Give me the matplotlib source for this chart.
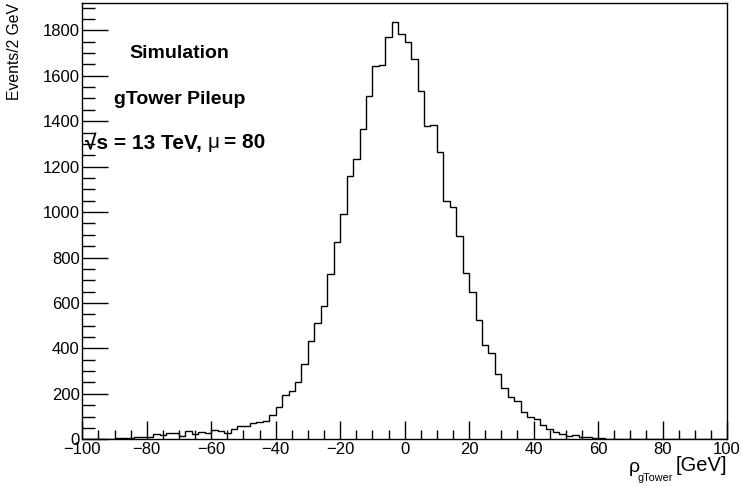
import numpy as np
import matplotlib
matplotlib.use("Agg")
import matplotlib.pyplot as plt
from matplotlib.ticker import MultipleLocator

plt.rcParams['font.family'] = ['Liberation Sans', 'DejaVu Sans']
plt.rcParams['axes.unicode_minus'] = True

# bin edges: 2 GeV bins from -100 to 100
bin_edges = np.arange(-100, 102, 2)

# events per bin
counts_neg_tail = [2, 2, 1, 3, 3, 5, 7, 5, 9, 10, 12, 22, 20, 26, 27, 16, 36,
                   25, 33, 28, 40, 37, 28, 44, 58]           # -100 .. -50
counts_rise = [58, 73, 78, 82, 105, 142, 195, 212, 253, 333, 432, 513, 585,
               727, 867, 993, 1157, 1235, 1365, 1510, 1642, 1648, 1771,
               1835, 1782]                                     # -50 .. 0
counts_fall = [1750, 1673, 1532, 1378, 1385, 1266, 1047, 1021, 896, 733, 650,
               525, 415, 378, 287, 226, 186, 167, 120, 98, 91, 62, 44, 31,
               23]                                             # 0 .. 50
counts_pos_tail = [15, 18, 11, 8, 6, 4, 2, 1] + [0] * 17       # 50 .. 100

counts = np.array(counts_neg_tail + counts_rise + counts_fall + counts_pos_tail)

x_ticks = [-100, -80, -60, -40, -20, 0, 20, 40, 60, 80, 100]
y_ticks = [0, 200, 400, 600, 800, 1000, 1200, 1400, 1600, 1800]

W, H = 741, 487
fig = plt.figure(figsize=(W / 100, H / 100), dpi=100)
ax = fig.add_axes([82.3 / W, 1 - 439.3 / H, (727 - 82.3) / W, (439.3 - 3) / H])

ax.stairs(counts, bin_edges, color='black', linewidth=1.0)

ax.set_xlim(-100, 100)
ax.set_ylim(0, 1920)
ax.set_xticks(x_ticks)
ax.set_yticks(y_ticks)
ax.xaxis.set_minor_locator(MultipleLocator(5))
ax.yaxis.set_minor_locator(MultipleLocator(50))
ax.tick_params(axis='both', which='both', direction='in', top=False, right=False,
               labelsize=12, width=1.0, color='black')
ax.tick_params(axis='x', which='major', length=13, pad=2)
ax.tick_params(axis='x', which='minor', length=6.5)
ax.tick_params(axis='y', which='major', length=19, pad=2)
ax.tick_params(axis='y', which='minor', length=9.5)
for s in ax.spines.values():
    s.set_linewidth(1.0)


def px(x, y):
    return x / W, 1 - y / H


# axis titles, ROOT style (right / top aligned)
fig.text(*px(15, 3), 'Events/2 GeV', rotation=90, ha='center', va='top',
         fontsize=11.3)
fig.text(*px(727, 471), '[GeV]', ha='right', va='baseline', fontsize=14.5)
fig.text(*px(637, 481), 'gTower', ha='left', va='baseline', fontsize=7.8)
fig.text(*px(629, 472), '\u03c1', ha='left', va='baseline', fontsize=14)

# labels
fig.text(*px(179, 53), 'Simulation', ha='center', va='center',
         fontsize=14, fontweight='bold')
fig.text(*px(179.5, 99), 'gTower Pileup', ha='center', va='center',
         fontsize=14, fontweight='bold')

renderer = fig.canvas.get_renderer()
t1 = fig.text(*px(85, 143), '\u221as = 13 TeV,', ha='left', va='center',
              fontsize=15, fontweight='bold')
x_end = t1.get_window_extent(renderer).x1
t2 = fig.text((x_end + 6) / W, 1 - 143 / H, '\u03bc', ha='left', va='center',
              fontsize=15)
x_end = t2.get_window_extent(renderer).x1
fig.text((x_end + 4) / W, 1 - 143 / H, '= 80', ha='left', va='center',
         fontsize=15, fontweight='bold')

fig.savefig('out.png', dpi=100)
